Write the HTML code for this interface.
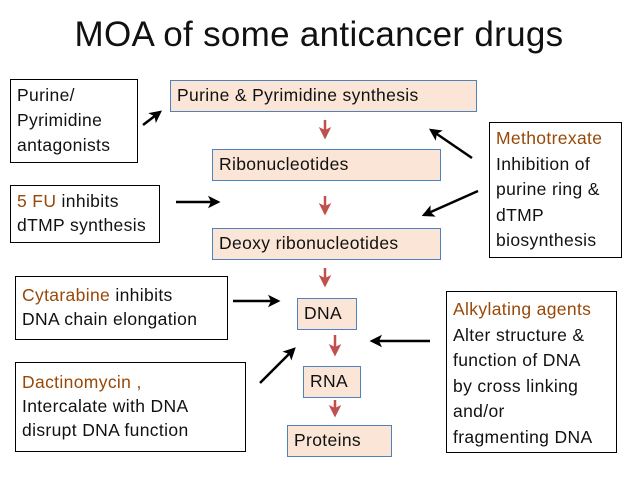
<!DOCTYPE html>
<html><head><meta charset="utf-8"><style>
body{margin:0;width:638px;height:479px;background:#fff;position:relative;overflow:hidden;font-family:"Liberation Sans",sans-serif;color:#111}
.b{position:absolute;box-sizing:border-box;border:1.5px solid #000;background:#fff;font-size:17.5px;line-height:24px;padding:3px 6px;white-space:nowrap;letter-spacing:0.35px}
.p{position:absolute;box-sizing:border-box;border:1.5px solid #4f81bd;background:#fbe5d6;font-size:17.5px;line-height:28px;padding:0 6px;white-space:nowrap;letter-spacing:0.35px}
.o{color:#984807}
h1{position:absolute;left:0;width:638px;top:15px;margin:0;text-align:center;font-weight:normal;font-size:35px;letter-spacing:0.3px}
svg{position:absolute;left:0;top:0}
</style></head><body>
<h1>MOA of some anticancer drugs</h1>
<div class="b" style="left:10px;top:79px;width:128px;height:84px;line-height:25px">Purine/<br>Pyrimidine<br>antagonists</div>
<div class="b" style="left:10px;top:185px;width:150px;height:58px">
<span class="o">5 FU</span> inhibits<br>dTMP synthesis</div>
<div class="b" style="left:15px;top:276px;width:213px;height:64px;padding-top:6px"><span class="o">Cytarabine</span> inhibits<br>DNA chain elongation</div>
<div class="b" style="left:15px;top:362px;width:231px;height:90px;padding-top:7px"><span class="o">Dactinomycin ,</span><br>Intercalate with DNA<br>disrupt DNA function</div>
<div class="b" style="left:489px;top:122px;width:133px;height:136px;line-height:25.5px"><span class="o">Methotrexate</span><br>Inhibition of<br>purine ring &amp;<br>dTMP<br>biosynthesis</div>
<div class="b" style="left:446px;top:291px;width:171px;height:162px;line-height:25.5px;padding-top:5px"><span class="o">Alkylating agents</span><br>Alter structure &amp;<br>function of DNA<br>by cross linking<br>and/or<br>fragmenting DNA</div>
<div class="p" style="left:170px;top:80px;width:307px;height:32px">Purine &amp; Pyrimidine synthesis</div>
<div class="p" style="left:212px;top:149px;width:229px;height:32px">Ribonucleotides</div>
<div class="p" style="left:212px;top:228px;width:229px;height:32px">Deoxy ribonucleotides</div>
<div class="p" style="left:297px;top:298px;width:60px;height:32px">DNA</div>
<div class="p" style="left:303px;top:366px;width:58px;height:32px">RNA</div>
<div class="p" style="left:287px;top:425px;width:105px;height:32px">Proteins</div>
<svg width="638" height="479">
<defs>
<marker id="k" markerWidth="6" markerHeight="6" refX="4" refY="3" orient="auto" markerUnits="strokeWidth"><path d="M0,0.5 L5,3 L0,5.5 L1.2,3z" fill="#000"/></marker>
<marker id="r" markerWidth="6" markerHeight="6" refX="4" refY="3" orient="auto" markerUnits="strokeWidth"><path d="M0,0.5 L5,3 L0,5.5 L1.2,3z" fill="#c0504d"/></marker>
</defs>
<g stroke="#000" stroke-width="2.5" marker-end="url(#k)">
<line x1="143" y1="125" x2="160" y2="112"/>
<line x1="176" y1="202" x2="218" y2="202"/>
<line x1="233" y1="301" x2="278" y2="301"/>
<line x1="260" y1="383" x2="294" y2="349"/>
<line x1="472" y1="158" x2="431" y2="130"/>
<line x1="478" y1="191" x2="424" y2="215"/>
<line x1="430" y1="341" x2="372" y2="341"/>
</g>
<g stroke="#c0504d" stroke-width="2.5" marker-end="url(#r)">
<line x1="325" y1="120" x2="325" y2="137"/>
<line x1="325" y1="196" x2="325" y2="213"/>
<line x1="325" y1="268" x2="325" y2="285"/>
<line x1="335" y1="335" x2="335" y2="354"/>
<line x1="335" y1="400" x2="335" y2="415"/>
</g>
</svg>
</body></html>
